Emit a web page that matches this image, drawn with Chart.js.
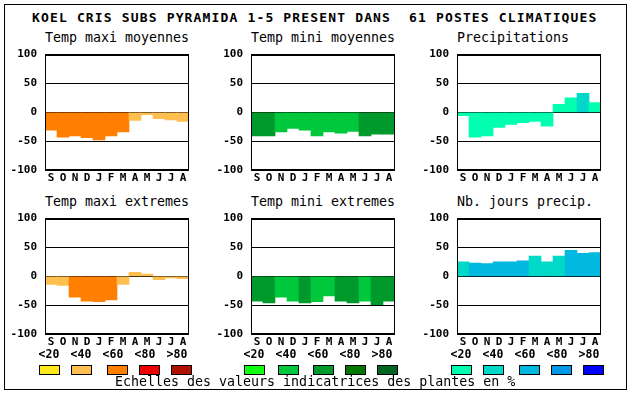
<!DOCTYPE html>
<html>
<head>
<meta charset="utf-8">
<script src="https://cdn.jsdelivr.net/npm/chart.js@4"></script>
<style>
  html, body { margin: 0; padding: 0; background: #fff; }
  #wrap { position: relative; width: 630px; height: 394px; overflow: hidden; background: #fff; }
  #frame { position: absolute; left: 4px; top: 4px; width: 621px; height: 384px; border: 1px solid #000; box-sizing: content-box; }
  .txt { position: absolute; font-family: "DejaVu Sans Mono", monospace; color: #000; white-space: pre; line-height: 16px; }
  canvas { position: absolute; }
  .box { position: absolute; width: 19px; height: 8px; border: 1px solid #000; }
</style>
</head>
<body>
<div id="wrap"><div id="frame"></div></div>
<script>
// ---------- DATA ----------
const mainTitle = "KOEL CRIS SUBS PYRAMIDA 1-5 PRESENT DANS  61 POSTES CLIMATIQUES";
const footerText = "Echelles des valeurs indicatrices des plantes en %";
const months = ['S','O','N','D','J','F','M','A','M','J','J','A'];
const yTicks = [-100, -50, 0, 50, 100];
const classLabels = ['<20','<40','<60','<80','>80'];

const warmPalette  = ['#FFE81C','#FFBF50','#FF8000','#EE0000','#B01000'];
const greenPalette = ['#10FF10','#00C83C','#009A2C','#007800','#006420'];
const bluePalette  = ['#00FFB0','#00D8C8','#00B8E0','#0098E8','#0000FF'];

const panelTitles = ['Temp maxi moyennes','Temp mini moyennes','Precipitations',
                     'Temp maxi extremes','Temp mini extremes','Nb. jours precip.'];

const tmaxMoy    = [-31,-43,-41,-44,-48,-41,-34,-14,-4,-11,-13,-16];
const tmaxMoyCls = [2,2,2,2,2,2,2,1,1,1,1,1];

const tminMoy    = [-41,-41,-34,-28,-31,-41,-34,-36,-33,-41,-38,-38];
const tminMoyCls = [2,2,1,1,1,1,1,1,1,2,2,2];

const precip     = [-6,-43,-41,-26,-21,-18,-16,-24,14,25,33,17];
const precipCls  = [0,0,0,0,0,0,0,0,0,0,1,0];

const tmaxExt    = [-14,-16,-36,-43,-44,-41,-14,7,4,-6,-3,-4];
const tmaxExtCls = [1,1,2,2,2,2,1,1,1,1,1,1];

const tminExt    = [-43,-46,-36,-43,-46,-44,-34,-43,-46,-43,-49,-43];
const tminExtCls = [2,2,1,1,2,1,1,2,2,1,2,2];

const nbJours    = [25,23,22,25,25,27,35,25,35,45,40,41];
const nbJoursCls = [1,2,2,2,2,2,1,1,1,2,2,2];

// ---------- LAYOUT ----------
const FONT = '"DejaVu Sans Mono", monospace';
const wrap = document.getElementById('wrap');

function addText(str, x, y, style) {
  const d = document.createElement('div');
  d.className = 'txt';
  d.textContent = str;
  d.style.left = x + 'px';
  d.style.top = y + 'px';
  Object.assign(d.style, style || {});
  wrap.appendChild(d);
  return d;
}

addText(mainTitle, 32, 10, { fontSize: '13px', fontWeight: 'bold', letterSpacing: '1.15px' });

const borderPlugin = {
  id: 'areaBorder',
  afterDraw(chart) {
    const a = chart.chartArea, ctx = chart.ctx;
    ctx.save();
    ctx.strokeStyle = '#000';
    ctx.lineWidth = 1;
    ctx.strokeRect(Math.round(a.left) + 0.5, Math.round(a.top) + 0.5,
                   Math.round(a.right - a.left) - 1, Math.round(a.bottom - a.top) - 1);
    ctx.restore();
  }
};

const panels = [
  { title: panelTitles[0], data: tmaxMoy, cls: tmaxMoyCls, pal: warmPalette,  px: 45,  py: 50 },
  { title: panelTitles[1], data: tminMoy, cls: tminMoyCls, pal: greenPalette, px: 251, py: 50 },
  { title: panelTitles[2], data: precip,  cls: precipCls,  pal: bluePalette,  px: 457, py: 50 },
  { title: panelTitles[3], data: tmaxExt, cls: tmaxExtCls, pal: warmPalette,  px: 45,  py: 214 },
  { title: panelTitles[4], data: tminExt, cls: tminExtCls, pal: greenPalette, px: 251, py: 214 },
  { title: panelTitles[5], data: nbJours, cls: nbJoursCls, pal: bluePalette,  px: 457, py: 214 }
];

const PW = 144, PH = 120, YW = 45, PADT = 10, XH = 16, PADR = 5;

panels.forEach((p) => {
  addText(p.title, p.px, p.py - 20, { fontSize: '13.3px' });
  const c = document.createElement('canvas');
  const w = YW + PW + PADR, h = PADT + PH + XH;
  c.width = w; c.height = h;
  c.style.left = (p.px - YW) + 'px';
  c.style.top = (p.py - PADT) + 'px';
  c.style.width = w + 'px'; c.style.height = h + 'px';
  wrap.appendChild(c);
  new Chart(c, {
    type: 'bar',
    data: {
      labels: months,
      datasets: [{
        data: p.data,
        backgroundColor: p.cls.map(k => p.pal[k]),
        borderWidth: 0,
        categoryPercentage: 1,
        barPercentage: 1
      }]
    },
    options: {
      responsive: false,
      devicePixelRatio: 1,
      animation: false,
      events: [],
      layout: { padding: { top: PADT, right: PADR, left: 0, bottom: 0 } },
      plugins: { legend: { display: false }, tooltip: { enabled: false }, title: { display: false } },
      scales: {
        x: {
          grid: { display: false, drawTicks: false },
          border: { display: false },
          ticks: { padding: 2, color: '#000', autoSkip: false, maxRotation: 0,
                   font: { family: FONT, weight: 'bold', size: 11 } },
          afterFit(s) { s.height = XH; }
        },
        y: {
          min: yTicks[0], max: yTicks[yTicks.length - 1], z: 1,
          afterBuildTicks(s) { s.ticks = yTicks.map(v => ({ value: v })); },
          ticks: { padding: 8, color: '#000', font: { family: FONT, weight: 'bold', size: 11 } },
          grid: { color: '#000', lineWidth: 1, drawTicks: false },
          border: { display: true, color: '#000' },
          afterFit(s) { s.width = YW; }
        }
      }
    },
    plugins: [borderPlugin]
  });
});

// ---------- LEGEND SCALES ----------
const legendGroups = [
  { pal: warmPalette,  x0: 49,  boxX: [39, 71, 107, 139, 171] },
  { pal: greenPalette, x0: 254, boxX: [244, 278, 313, 345, 377] },
  { pal: bluePalette,  x0: 461, boxX: [451, 483, 519, 551, 583] }
];
legendGroups.forEach(g => {
  classLabels.forEach((lab, i) => {
    const t = addText(lab, g.x0 - 11 + i * 32, 346, { fontSize: '11.5px', fontWeight: 'bold', width: '22px', textAlign: 'center' });
    const b = document.createElement('div');
    b.className = 'box';
    b.style.left = g.boxX[i] + 'px';
    b.style.top = '365px';
    b.style.background = g.pal[i];
    wrap.appendChild(b);
  });
});

addText(footerText, 115, 374, { fontSize: '13.3px' });
</script>
</body>
</html>
